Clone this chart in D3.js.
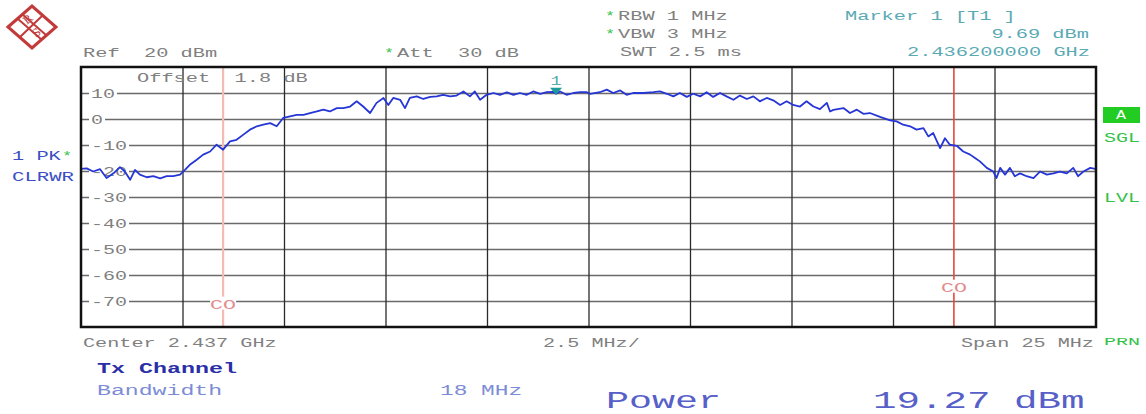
<!DOCTYPE html>
<html>
<head>
<meta charset="utf-8">
<script src="https://cdn.jsdelivr.net/npm/d3@7"></script>
<style>
body { margin:0; background:#fff; }
svg { display:block; }
text { white-space:pre; }
</style>
</head>
<body>
<svg id="chart"></svg>
<script>
// trace: offset from center (MHz) and level (dBm)
var freqOffsets = [-12.50,-12.36,-12.20,-12.03,-11.87,-11.70,-11.54,-11.42,-11.29,-11.17,-11.05,-10.88,-10.72,-10.55,-10.39,-10.23,-10.06,-9.94,-9.82,-9.65,-9.49,-9.32,-9.16,-9.00,-8.83,-8.67,-8.50,-8.34,-8.17,-8.01,-7.84,-7.68,-7.52,-7.35,-7.19,-7.02,-6.86,-6.69,-6.53,-6.37,-6.20,
    -6.04,-5.87,-5.71,-5.55,-5.38,-5.22,-5.05,-4.93,-4.81,-4.64,-4.52,-4.40,-4.23,-4.07,-3.90,-3.74,-3.58,-3.41,-3.25,-3.08,-2.92,-2.80,-2.67,-2.51,-2.34,-2.18,-2.01,-1.85,-1.69,-1.52,-1.36,-1.19,-1.03,-0.87,-0.80,-0.70,-0.54,-0.37,-0.21,-0.04,
    0.04,0.28,0.45,0.61,0.78,0.94,1.10,1.35,1.60,1.76,1.93,2.09,2.25,2.42,2.58,2.75,2.91,3.07,3.24,3.40,3.57,3.73,3.90,4.06,4.22,4.39,4.55,4.72,4.88,5.04,5.21,5.37,5.54,5.70,5.87,5.95,6.03,
    6.28,6.44,6.61,6.77,6.93,7.18,7.43,7.59,7.75,7.92,8.08,8.25,8.37,8.49,8.66,8.78,8.90,9.07,9.23,9.40,9.52,9.64,9.81,9.97,10.05,10.14,10.26,10.38,10.50,10.63,10.79,10.96,11.12,11.29,11.45,11.61,11.78,11.94,12.06,12.19,12.36,12.48];

var levels = [-19.2,-19.0,-20.2,-19.3,-22.7,-20.9,-18.5,-20.2,-23.4,-19.6,-21.4,-22.4,-22.0,-22.8,-22.0,-22.0,-21.4,-19.6,-17.6,-15.7,-13.7,-12.5,-9.9,-11.8,-8.6,-8.0,-6.0,-4.1,-2.8,-2.2,-1.6,-2.8,0.4,1.0,1.6,1.6,2.3,2.9,3.6,2.9,4.2,
    4.2,4.8,6.8,4.8,2.3,6.2,8.1,5.4,8.1,7.4,4.2,8.1,8.7,7.7,8.5,8.7,9.3,8.7,9.0,10.6,8.7,10.6,7.4,9.3,10.0,9.3,10.3,9.3,10.0,9.3,10.6,9.7,10.3,10.4,9.69,10.6,9.3,10.0,10.3,10.3,
    9.7,10.3,11.3,10.0,11.0,9.3,10.0,10.0,10.3,10.6,9.7,8.7,10.0,8.5,9.7,8.7,10.3,8.5,10.0,8.7,7.4,9.0,7.7,8.7,6.8,8.1,7.2,5.4,6.8,5.4,4.8,6.8,4.8,3.8,6.2,2.9,3.5,
    4.2,2.3,3.6,2.0,2.3,0.8,-0.5,-0.9,-2.2,-2.8,-4.1,-3.5,-6.7,-5.4,-11.2,-7.4,-9.9,-10.3,-12.5,-13.7,-15.0,-16.3,-18.8,-20.2,-22.7,-18.8,-21.4,-18.8,-22.0,-20.9,-22.0,-22.7,-20.2,-21.4,-20.9,-20.2,-20.9,-18.8,-22.0,-20.2,-18.8,-19.2];

var levelTicks = [10,0,-10,-20,-30,-40,-50,-60,-70];
var levelGrid = [10,0,-10,-20,-30,-40,-50,-60,-70];
var freqGrid = [-10,-7.5,-5,-2.5,0,2.5,5,7.5,10];
var channelEdges = [-9,9];
var channelLabels = ["CO","CO"];
var markerFreq = -0.8;
var markerLevel = 9.69;

var W = 1146, H = 414;
var plot = {left:81, right:1096, top:67, bottom:327};

var mono = "'Liberation Mono','DejaVu Sans Mono',monospace";
var gray = "#808080";
var teal = "#5aaab4";
var green = "#33c24a";
var blue = "#3a4fc4";

var svg = d3.select("#chart")
    .attr("width",W)
    .attr("height",H);

svg.append("rect")
    .attr("width",W)
    .attr("height",H)
    .attr("fill","#fff");

var xScale = d3.scaleLinear()
    .domain([-12.5,12.5])
    .range([plot.left,plot.right]);

var yScale = d3.scaleLinear()
    .domain([-80,20])
    .range([plot.bottom,plot.top]);

// stretched monospace text, cw = width of one character
var label = function(g,x,y,str,cw,size,color,anchor,weight)
{
    return g.append("text")
        .attr("x",x)
        .attr("y",y)
        .attr("font-family",mono)
        .attr("font-size",size)
        .attr("font-weight",weight || "normal")
        .attr("fill",color)
        .attr("text-anchor",anchor || "start")
        .attr("textLength",str.length*cw)
        .attr("lengthAdjust","spacingAndGlyphs")
        .text(str);
}

// grid
var gridG = svg.append("g");

gridG.append("g")
    .attr("transform","translate("+plot.left+",0)")
    .call(d3.axisLeft(yScale)
        .tickValues(levelGrid)
        .tickSize(-(plot.right-plot.left))
        .tickFormat(""))
    .call(function(g){ g.select(".domain").remove(); })
    .selectAll("line")
    .attr("stroke","#6a6a6a")
    .attr("stroke-width",1.3);

gridG.append("g")
    .attr("transform","translate(0,"+plot.bottom+")")
    .call(d3.axisBottom(xScale)
        .tickValues(freqGrid)
        .tickSize(-(plot.bottom-plot.top))
        .tickFormat(""))
    .call(function(g){ g.select(".domain").remove(); })
    .selectAll("line")
    .attr("stroke","#2a2a2a")
    .attr("stroke-width",1.3);

// level labels sit in gaps of the grid lines
var tickG = svg.append("g");
levelTicks.forEach(function(v)
{
    var s = String(v);
    tickG.append("rect")
        .attr("x",89)
        .attr("y",yScale(v)-6)
        .attr("width",s.length*12+4)
        .attr("height",12)
        .attr("fill","#fff");
    label(tickG,91,yScale(v)+5,s,12,13,gray);
});

// channel edges
var chanG = svg.append("g");
chanG.selectAll("line")
    .data(channelEdges)
    .enter()
    .append("line")
    .attr("x1",function(d){ return xScale(d); })
    .attr("x2",function(d){ return xScale(d); })
    .attr("y1",plot.top)
    .attr("y2",plot.bottom)
    .attr("stroke",function(d,i){ return i==0 ? "#f2bcb4" : "#e4483c"; })
    .attr("stroke-width",function(d,i){ return i==0 ? 2.2 : 1.6; });

var coY = [-71,-64.5];
channelEdges.forEach(function(d,i)
{
    chanG.append("rect")
        .attr("x",xScale(d)-13)
        .attr("y",yScale(coY[i])-7)
        .attr("width",26)
        .attr("height",13)
        .attr("fill","#fff");
    label(chanG,xScale(d),yScale(coY[i])+5,channelLabels[i],13,13,"#e28c8c","middle");
});

label(svg,137,82,"Offset  1.8 dB",12.2,13,gray);

// trace
var points = freqOffsets.map(function(f,i){ return [f,levels[i]]; });

var line = d3.line()
    .x(function(d){ return xScale(d[0]); })
    .y(function(d){ return yScale(d[1]); });

svg.append("path")
    .datum(points)
    .attr("d",line)
    .attr("fill","none")
    .attr("stroke","#2636d6")
    .attr("stroke-width",1.8)
    .attr("stroke-linejoin","round");

// marker
var mx = xScale(markerFreq), my = yScale(markerLevel);
svg.append("path")
    .attr("d","M"+(mx-6)+","+(my-6)+"L"+(mx+6)+","+(my-6)+"L"+mx+","+(my+1)+"Z")
    .attr("fill","#1f9a9a");
label(svg,mx,my-9,"1",11,13,teal,"middle");

// frame
svg.append("rect")
    .attr("x",plot.left)
    .attr("y",plot.top)
    .attr("width",plot.right-plot.left)
    .attr("height",plot.bottom-plot.top)
    .attr("fill","none")
    .attr("stroke","#111")
    .attr("stroke-width",2.5);

// header
label(svg,83,57,"Ref  20 dBm",12.2,13,gray);
label(svg,384,57,"*",10,13,green);
label(svg,397,57,"Att  30 dB",12.2,13,gray);
label(svg,605,20,"*",10,13,green);
label(svg,618,20,"RBW 1 MHz",12.2,13,gray);
label(svg,605,38,"*",10,13,green);
label(svg,618,38,"VBW 3 MHz",12.2,13,gray);
label(svg,620,56,"SWT 2.5 ms",12.2,13,gray);
label(svg,845,20,"Marker 1 [T1 ]",12.2,13,teal);
label(svg,1089,38,"9.69 dBm",12.2,13,teal,"end");
label(svg,1090,56,"2.436200000 GHz",12.2,13,teal,"end");

// side labels
label(svg,12,160,"1 PK",12.2,13,blue);
label(svg,62,160,"*",10,13,green);
label(svg,12,181,"CLRWR",12.4,13,blue);

svg.append("rect")
    .attr("x",1103)
    .attr("y",107)
    .attr("width",37)
    .attr("height",16)
    .attr("fill","#22cc22");
label(svg,1121,119,"A",10,12,"#fff","middle");
label(svg,1104,142,"SGL",12,12,green);
label(svg,1104,202,"LVL",12,12,green);
label(svg,1104,345,"PRN",12,10,green);

// footer
label(svg,83,347,"Center 2.437 GHz",12.1,13,gray);
label(svg,543,347,"2.5 MHz/",12.1,13,gray);
label(svg,1094,347,"Span 25 MHz",12.1,13,gray,"end");

label(svg,97,373,"Tx Channel",14,14,"#2a2fa8","start","bold");
label(svg,97,395,"Bandwidth",13.9,14,"#7c8cd6");
label(svg,440,395,"18 MHz",13.7,14,"#7c8cd6");
label(svg,606,408,"Power",23,23,"#5660c8");
label(svg,873,408,"19.27 dBm",23.5,23,"#5660c8");

// R&S logo
var logo = svg.append("g").attr("transform","translate(32,27)");
logo.append("path")
    .attr("d","M-24,0L0,-21L24,0L0,21Z")
    .attr("fill","#fff")
    .attr("stroke","#c23a3a")
    .attr("stroke-width",3);
logo.append("path")
    .attr("d","M-14,-8L10,13M-10,-13L14,8M-12,10L10,-11")
    .attr("stroke","#c23a3a")
    .attr("stroke-width",2)
    .attr("fill","none");
logo.append("text")
    .attr("x",-5).attr("y",-2)
    .attr("font-family","'DejaVu Serif',serif")
    .attr("font-size",11)
    .attr("fill","#c23a3a")
    .attr("transform","rotate(-40,-5,-2)")
    .text("R");
logo.append("text")
    .attr("x",4).attr("y",11)
    .attr("font-family","'DejaVu Serif',serif")
    .attr("font-size",11)
    .attr("fill","#c23a3a")
    .attr("transform","rotate(-40,4,11)")
    .text("S");
</script>
</body>
</html>
